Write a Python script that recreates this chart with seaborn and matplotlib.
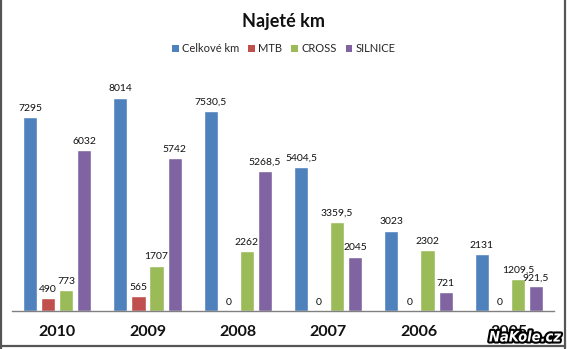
import matplotlib
matplotlib.use("Agg")
import matplotlib.pyplot as plt
import matplotlib.patheffects as pe
from matplotlib.lines import Line2D
from matplotlib.patches import Patch
import pandas as pd
import seaborn as sns

# Kilometres ridden per year, split by bike type
years = ["2010", "2009", "2008", "2007", "2006", "2005"]
celkove_km = [7295, 8014, 7530.5, 5404.5, 3023, 2131]
mtb = [490, 565, 0, 0, 0, 0]
cross = [773, 1707, 2262, 3359.5, 2302, 1209.5]
silnice = [6032, 5742, 5268.5, 2045, 721, 921.5]

series_names = ["Celkové km", "MTB", "CROSS", "SILNICE"]
series_values = [celkove_km, mtb, cross, silnice]
colors = ["#4F81BD", "#C0504D", "#9BBB59", "#8064A2"]

rows = []
for name, vals in zip(series_names, series_values):
    for y, v in zip(years, vals):
        rows.append({"rok": y, "typ": name, "km": v})
df = pd.DataFrame(rows)

sns.set_theme(style="white")
plt.rcParams["font.family"] = ["Lato", "DejaVu Sans"]

W, H = 567, 349
fig = plt.figure(figsize=(W / 100, H / 100), dpi=100)
fig.patch.set_facecolor("white")

# plot area in pixel coordinates
left, right, base, top = 12, 554, 311, 71.4
ax = fig.add_axes([left / W, 1 - base / H, (right - left) / W, (base - top) / H])

sns.barplot(data=df, x="rok", y="km", hue="typ", order=years,
            hue_order=series_names, palette=colors, width=0.8, gap=0.22,
            saturation=1, legend=False, ax=ax)

ax.set_ylim(0, 9000)
ax.set_xlim(-0.5, len(years) - 0.5)
ax.set_xlabel("")
ax.set_ylabel("")
ax.set_yticks([])
for s in ["left", "right", "top"]:
    ax.spines[s].set_visible(False)
ax.spines["bottom"].set_color("#808080")
ax.spines["bottom"].set_linewidth(1.0)
ax.tick_params(axis="x", length=0, pad=10)
for lab in ax.get_xticklabels():
    lab.set_fontweight("bold")
    lab.set_fontsize(11.5)
    lab.set_color("#111111")


def fmt(v):
    if float(v).is_integer():
        return str(int(v))
    return str(v).replace(".", ",")


for cont, vals in zip(ax.containers, series_values):
    ax.bar_label(cont, labels=[fmt(v) for v in vals], padding=3,
                 fontsize=7.5, color="#111111")

# title and legend
fig.text(0.5, 1 - 21 / H, "Najeté km", ha="center", va="center",
         fontsize=13, fontweight="bold", color="#111111")
handles = [Patch(facecolor=c, edgecolor="none") for c in colors]
fig.legend(handles, series_names, loc="center", ncol=4,
           bbox_to_anchor=(284 / W, 1 - 49 / H), frameon=False, fontsize=8,
           handlelength=0.6, handleheight=0.6, handletextpad=0.3,
           columnspacing=0.8, borderpad=0)

# watermark in the lower right corner
fig.text(525 / W, 1 - 337 / H, "NaKole.cz", ha="center", va="center",
         fontsize=10.5, fontweight="bold", fontstyle="italic",
         fontstretch="condensed", family="DejaVu Sans", color="white",
         zorder=10,
         path_effects=[pe.withStroke(linewidth=3, foreground="black")])

# frame on the left, right and bottom edges
frame_kw = dict(color="#555555", linewidth=1.6, transform=fig.transFigure)
fig.add_artist(Line2D([1 / W, 1 / W], [0, 1], **frame_kw))
fig.add_artist(Line2D([565 / W, 565 / W], [0, 1], **frame_kw))
fig.add_artist(Line2D([0, 565 / W], [1 - 346 / H, 1 - 346 / H], **frame_kw))

fig.savefig("out.png", dpi=100)
